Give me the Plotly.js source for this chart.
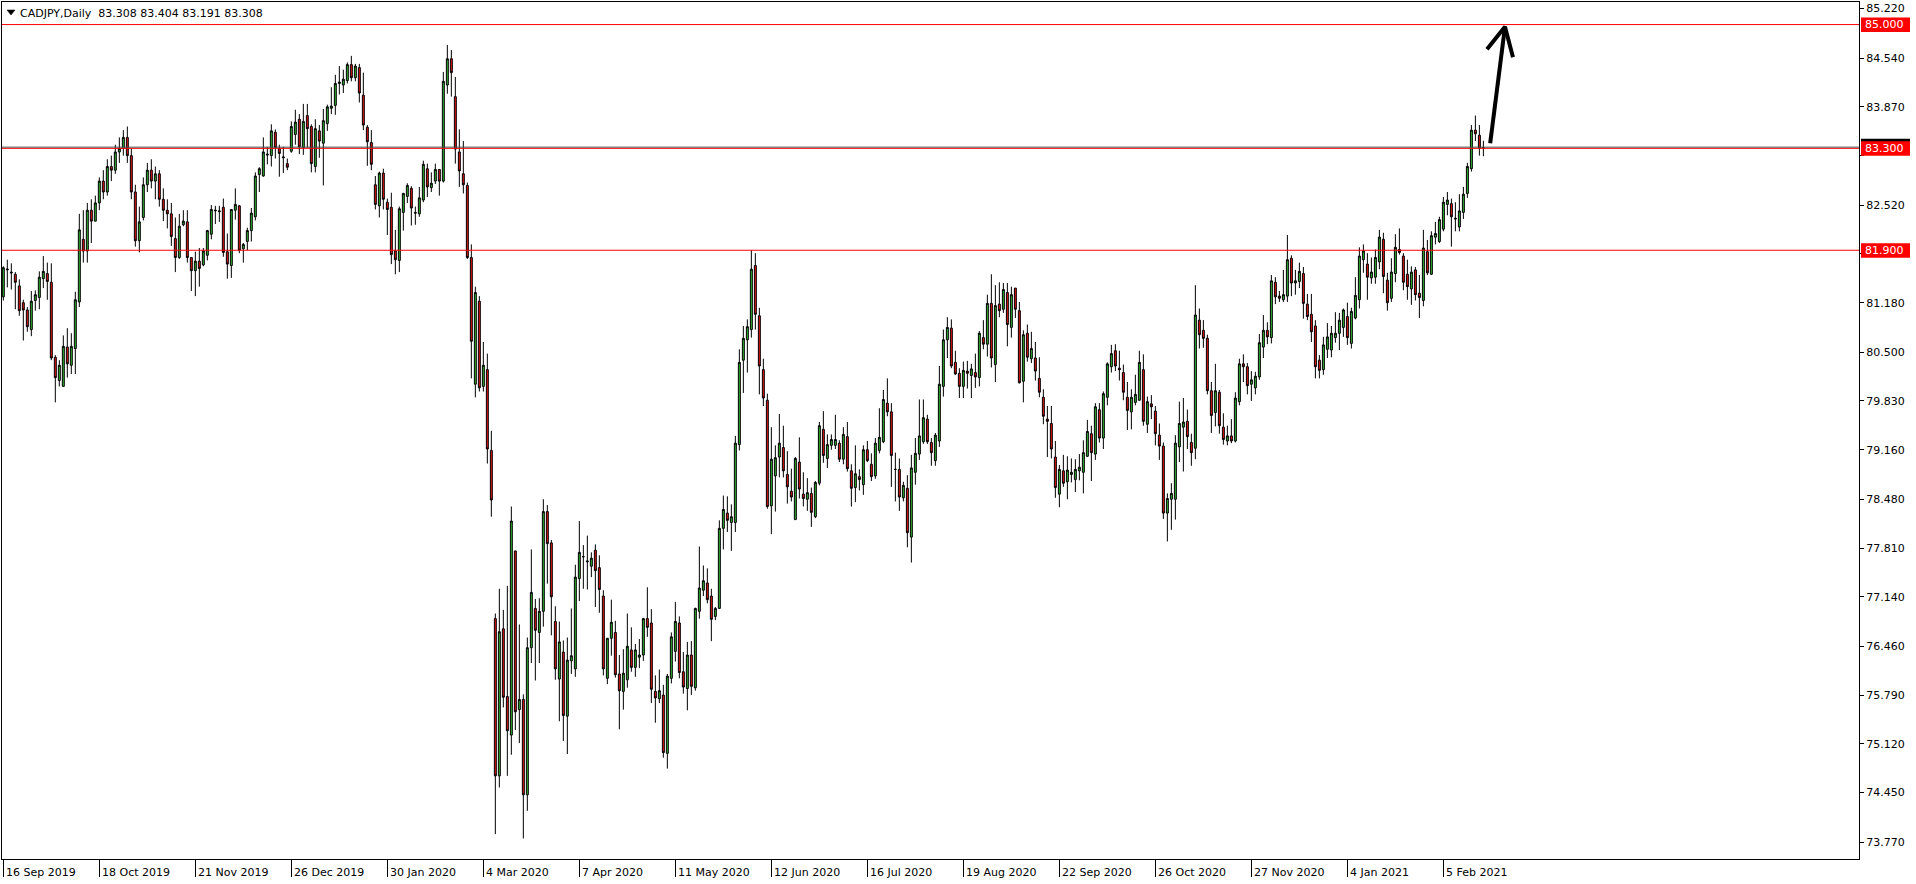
<!DOCTYPE html>
<html><head><meta charset="utf-8">
<script src="https://cdn.plot.ly/plotly-3.0.1.min.js"></script>
<style>html,body{margin:0;padding:0;background:#fff;overflow:hidden}#chart{width:1916px;height:884px}</style>
</head><body><div id="chart"></div>
<script>
const symbolTitle = 'CADJPY,Daily';
const lastBar = ['83.308', '83.404', '83.191', '83.308'];

const opens = [
81.26,81.63,81.60,81.57,81.41,81.18,81.08,80.81,81.21,81.25,
81.51,81.58,81.46,80.43,80.11,80.03,80.57,80.32,80.55,81.19,
82.05,81.89,82.45,82.30,82.55,82.85,82.70,83.05,83.00,83.25,
83.30,83.45,83.20,82.70,82.03,82.35,82.80,83.00,82.85,82.95,
82.60,82.45,82.40,82.06,81.80,82.25,82.29,81.80,81.62,81.75,
81.70,81.83,82.12,82.44,82.43,82.49,81.88,81.69,82.45,82.51,
81.92,82.02,82.17,82.36,82.94,82.92,83.22,83.20,83.52,83.30,
83.17,83.09,83.26,83.49,83.70,83.31,83.75,83.60,83.05,83.54,
83.37,83.64,83.85,83.89,84.19,84.17,84.23,84.45,84.27,84.41,
84.03,83.59,83.38,82.80,82.51,82.96,82.56,82.49,81.89,81.76,
82.42,82.64,82.75,82.42,82.40,82.59,83.02,82.76,82.85,83.01,
82.85,84.17,84.53,84.01,83.25,82.95,82.79,81.80,80.06,81.20,
80.03,80.26,79.15,76.84,74.68,76.70,75.77,75.24,77.77,75.59,
75.73,74.42,76.44,76.98,76.65,76.94,78.31,77.88,76.80,76.01,
76.38,75.50,76.26,76.15,77.39,77.69,77.62,77.56,77.78,77.54,
77.15,76.02,76.57,76.65,76.08,75.84,76.00,76.41,76.17,76.31,
76.34,76.84,76.78,75.84,75.74,75.79,74.99,76.02,76.39,76.78,
76.11,75.88,76.34,75.89,76.94,77.23,77.33,77.15,76.87,76.98,
78.08,78.29,78.16,78.16,79.23,80.39,80.67,80.81,81.69,81.00,
80.26,79.84,78.39,78.80,79.06,79.19,78.82,78.59,78.20,78.99,
78.55,78.48,78.56,78.24,78.70,79.44,79.04,79.22,79.22,79.25,
79.03,79.34,78.87,78.64,78.79,78.68,79.16,78.96,78.80,79.15,
79.27,79.80,79.68,78.89,78.89,78.50,78.63,77.96,78.85,79.10,
79.27,79.58,79.26,79.01,79.28,80.03,80.67,80.83,80.36,80.21,
80.03,80.24,80.18,80.22,80.15,80.70,80.61,81.17,80.33,81.16,
81.09,81.32,80.84,81.38,81.07,80.10,80.76,80.41,80.42,80.14,
79.88,79.58,79.52,79.06,78.55,78.87,78.72,78.82,78.75,78.87,
78.85,79.07,79.38,79.10,79.71,79.32,79.88,80.30,80.52,80.28,
80.22,79.88,79.68,79.81,79.84,80.26,79.51,79.79,79.69,79.36,
79.21,78.29,78.48,78.48,79.20,79.47,79.55,79.26,79.18,80.94,
80.80,80.69,79.97,79.67,79.95,79.47,79.28,79.35,79.28,79.82,
80.34,80.30,80.06,80.01,80.16,80.57,80.80,80.70,81.46,81.27,
81.22,81.27,81.79,81.45,81.47,81.58,81.16,81.02,80.86,80.39,
80.26,80.54,80.53,80.70,80.76,80.84,80.99,80.62,80.97,81.22,
81.77,81.71,81.52,81.53,81.74,82.05,81.49,81.24,81.58,81.91,
81.82,81.57,81.37,81.63,81.31,81.21,81.88,81.57,82.08,82.02,
82.19,82.53,82.54,82.34,82.22,82.42,82.68,83.02,83.55,83.48,
83.308];

const highs = [
81.68,81.77,81.72,81.60,81.50,81.22,81.12,81.34,81.35,81.61,
81.82,81.73,81.72,80.46,80.39,80.73,80.83,80.76,81.33,82.40,
82.45,82.55,82.60,82.65,82.90,83.00,83.15,83.20,83.35,83.45,
83.55,83.60,83.30,82.80,82.50,82.90,83.10,83.15,83.05,83.00,
82.75,82.60,82.55,82.35,82.40,82.45,82.45,81.80,81.88,81.93,
81.93,82.18,82.52,82.51,82.51,82.61,82.13,82.46,82.75,82.52,
82.00,82.21,82.48,82.97,83.04,83.45,83.32,83.63,83.56,83.35,
83.32,83.16,83.67,83.83,83.77,83.91,83.91,83.63,83.70,83.62,
83.84,83.90,84.14,84.31,84.43,84.38,84.48,84.57,84.46,84.46,
84.34,83.62,83.55,82.92,82.98,83.02,82.61,82.69,82.18,82.50,
82.69,82.82,82.78,82.50,82.77,83.13,83.09,82.97,83.09,83.01,
84.35,84.72,84.65,84.28,83.56,83.40,82.83,81.98,81.40,81.27,
80.64,80.48,79.42,76.91,77.25,76.96,77.29,78.38,77.77,76.76,
75.80,76.58,77.79,77.11,77.12,78.48,78.40,77.92,77.01,76.80,
76.54,76.58,76.98,77.58,78.18,77.85,77.98,77.75,77.86,77.71,
77.23,76.57,77.10,76.81,76.34,76.42,76.91,76.72,76.49,76.56,
76.85,77.27,76.97,76.06,76.14,75.93,76.08,76.65,77.07,76.87,
76.38,76.52,76.53,76.99,77.83,77.57,77.53,77.25,77.00,78.19,
78.53,78.52,78.41,79.35,80.54,80.86,80.95,81.90,81.86,81.11,
80.41,79.93,79.47,79.22,79.65,79.49,79.14,78.90,79.06,79.33,
78.85,78.77,78.64,78.73,79.54,79.69,79.37,79.37,79.64,79.29,
79.47,79.54,78.96,79.22,78.89,79.22,79.28,79.11,79.32,79.73,
79.98,80.14,79.80,79.12,79.04,78.72,78.81,79.09,79.32,79.85,
79.85,79.64,79.32,79.39,80.31,80.81,80.98,80.95,80.52,80.28,
80.37,80.38,80.34,80.48,80.79,80.94,81.29,81.57,81.42,81.46,
81.45,81.45,81.40,81.38,81.19,80.80,80.88,80.78,80.64,80.43,
79.99,79.76,79.76,79.28,78.95,79.09,79.07,79.04,79.03,79.10,
79.29,79.57,79.49,79.80,79.80,79.96,80.36,80.60,80.61,80.52,
80.33,80.09,79.99,80.19,80.52,80.47,79.89,79.91,79.76,79.52,
79.26,78.56,78.70,79.36,79.82,79.87,79.71,79.38,81.42,81.10,
80.94,80.74,80.09,80.34,79.98,79.66,79.49,79.58,79.95,80.41,
80.47,80.35,80.24,80.23,80.75,81.01,80.91,81.56,81.53,81.34,
81.63,82.11,81.83,81.63,81.73,81.67,81.30,81.30,80.94,80.46,
80.71,80.90,80.86,81.05,81.04,81.10,81.18,81.11,81.53,81.94,
81.98,81.86,81.80,81.91,82.18,82.14,81.59,81.79,82.12,82.20,
81.86,81.77,81.68,81.67,81.56,82.18,82.04,82.16,82.29,82.36,
82.63,82.70,82.61,82.56,82.67,82.77,83.10,83.62,83.75,83.62,
83.404];

const lows = [
81.21,81.39,81.36,81.09,81.00,80.66,80.78,80.72,81.07,81.09,
81.38,81.22,80.39,79.81,80.03,80.03,80.15,80.20,80.20,81.12,
81.73,81.73,82.00,82.30,82.45,82.60,82.65,82.85,82.95,83.10,
83.20,83.10,82.60,81.95,81.87,82.31,82.70,82.75,82.60,82.50,
82.30,82.20,81.96,81.60,81.78,82.23,81.73,81.34,81.27,81.40,
81.68,81.76,82.05,82.26,82.29,81.81,81.51,81.52,82.32,81.86,
81.73,81.90,82.02,82.31,82.70,82.91,83.08,83.05,83.16,82.91,
82.96,83.00,83.24,83.35,83.22,83.21,83.31,82.97,82.97,83.17,
82.79,83.54,83.77,83.76,84.04,84.06,84.19,84.22,84.22,83.93,
83.55,83.06,83.00,82.46,82.35,82.46,82.11,81.71,81.57,81.60,
82.17,82.55,82.24,82.25,82.36,82.56,82.63,82.70,82.81,82.65,
82.83,84.05,84.01,83.09,82.77,82.68,81.78,80.14,79.88,79.96,
79.96,78.97,78.24,73.88,74.52,75.62,74.68,74.97,75.31,75.13,
73.82,74.20,76.23,75.99,76.23,76.73,77.32,76.61,76.00,75.43,
75.16,74.98,76.08,76.04,77.08,77.25,77.24,77.41,77.00,76.92,
76.06,75.94,76.33,76.03,75.32,75.59,75.89,76.11,76.04,76.16,
76.26,76.59,75.68,75.41,75.68,74.93,74.78,75.95,76.25,76.02,
75.81,75.58,75.79,75.85,76.84,77.15,77.05,76.53,76.82,76.98,
77.79,78.03,77.77,78.03,79.15,79.94,80.22,80.70,80.81,79.92,
79.76,78.35,78.00,78.31,78.78,78.78,78.42,78.45,78.20,78.49,
78.38,78.32,78.10,78.22,78.67,78.98,78.91,79.16,79.17,78.99,
78.96,78.86,78.38,78.44,78.60,78.54,78.99,78.73,78.76,79.11,
79.25,79.62,78.65,78.45,78.32,78.45,77.82,77.61,78.68,79.02,
79.24,79.24,78.94,78.94,79.20,79.89,80.42,80.28,80.19,79.87,
79.87,80.00,79.87,80.01,80.03,80.54,80.44,80.29,80.09,80.98,
81.04,80.58,80.70,80.97,80.07,79.81,80.37,80.35,80.11,79.88,
79.51,79.06,79.04,78.50,78.37,78.65,78.48,78.71,78.58,78.74,
78.56,79.06,78.73,79.02,79.26,79.17,79.77,80.22,80.24,80.11,
79.84,79.43,79.44,79.77,79.83,79.49,79.39,79.58,79.22,79.02,
78.21,77.90,78.06,78.20,78.99,78.86,79.17,78.94,79.03,80.55,
80.56,79.92,79.39,79.48,79.38,79.23,79.22,79.25,79.26,79.77,
80.09,79.92,79.83,79.92,80.12,80.42,80.61,80.62,81.16,81.19,
81.19,81.19,81.27,81.29,81.38,80.96,80.94,80.64,80.14,80.14,
80.19,80.42,80.43,80.63,80.53,80.71,80.60,80.55,80.95,81.10,
81.59,81.22,81.44,81.44,81.64,81.31,81.07,81.19,81.46,81.84,
81.35,81.22,81.15,81.21,80.97,81.13,81.56,81.56,81.98,82.00,
82.16,82.38,81.95,82.16,82.16,82.33,82.62,82.98,83.40,83.20,
83.191];

const closes = [
81.66,81.64,81.59,81.46,81.07,81.08,80.85,81.20,81.29,81.53,
81.61,81.47,80.42,80.15,80.32,80.58,80.34,80.58,81.22,82.18,
81.89,82.45,82.30,82.55,82.85,82.70,83.05,83.00,83.25,83.30,
83.45,83.20,82.70,82.03,82.29,82.80,83.00,82.85,82.95,82.60,
82.45,82.40,82.09,81.80,82.23,82.30,81.80,81.62,81.75,81.65,
81.89,82.17,82.46,82.45,82.44,81.87,81.71,82.46,82.53,81.90,
81.98,82.17,82.41,82.92,83.02,83.25,83.21,83.54,83.31,83.23,
83.18,83.04,83.60,83.66,83.32,83.67,83.57,83.09,83.57,83.40,
83.68,83.87,83.88,84.19,84.21,84.25,84.45,84.27,84.43,84.06,
83.62,83.39,83.08,82.53,82.96,82.60,82.46,81.84,81.77,82.47,
82.68,82.79,82.48,82.41,82.62,83.08,82.77,82.82,83.01,82.85,
84.22,84.53,84.34,83.29,82.99,82.80,81.80,80.65,81.32,80.01,
80.32,79.17,78.47,74.68,76.66,75.76,75.30,78.18,75.56,75.73,
74.42,76.44,77.20,76.68,76.94,78.31,77.87,77.14,76.15,76.52,
75.51,76.27,76.33,77.41,77.75,77.69,77.63,77.67,77.50,77.24,
76.15,76.57,76.79,76.07,75.85,76.09,76.46,76.17,76.41,76.34,
76.84,76.72,75.87,75.75,75.85,75.00,76.05,76.59,76.80,76.10,
75.90,76.34,75.91,76.98,77.26,77.36,77.10,76.83,76.98,78.08,
78.34,78.19,78.24,79.25,80.36,80.69,80.85,81.64,81.02,80.31,
79.87,78.38,79.03,79.05,79.25,78.87,78.65,78.51,79.04,78.62,
78.49,78.57,78.30,78.71,79.49,79.08,79.23,79.30,79.30,79.03,
79.37,78.90,78.63,78.83,78.75,79.16,79.01,78.79,79.25,79.33,
79.85,79.68,79.08,78.89,78.51,78.67,78.02,78.91,79.11,79.35,
79.60,79.27,79.12,79.36,80.06,80.67,80.84,80.31,80.20,80.03,
80.25,80.21,80.27,80.16,80.76,80.61,81.17,80.42,81.14,81.07,
81.36,80.88,81.29,81.09,80.08,80.74,80.43,80.55,80.24,79.95,
79.62,79.55,79.17,78.64,78.89,78.70,78.88,78.85,78.89,78.92,
79.12,79.41,79.12,79.75,79.32,79.93,80.34,80.48,80.31,80.26,
79.95,79.70,79.88,79.92,80.36,79.55,79.82,79.75,79.38,79.21,
78.29,78.49,78.56,79.25,79.52,79.54,79.34,79.12,81.01,80.74,
80.69,79.97,79.63,79.97,79.49,79.30,79.35,79.28,79.87,80.34,
80.30,80.04,80.12,80.17,80.63,80.80,80.71,81.48,81.26,81.24,
81.29,81.77,81.45,81.48,81.61,81.17,80.99,80.78,80.30,80.25,
80.60,80.71,80.76,80.76,80.94,81.08,80.70,81.06,81.28,81.82,
81.89,81.53,81.60,81.80,82.08,81.54,81.18,81.60,81.94,81.87,
81.46,81.40,81.60,81.29,81.25,81.93,81.59,82.10,82.13,82.32,
82.56,82.59,82.36,82.33,82.44,82.67,83.05,83.55,83.50,83.30,
83.308];

const dateLabels = ['16 Sep 2019','18 Oct 2019','21 Nov 2019','26 Dec 2019','30 Jan 2020','4 Mar 2020',
  '7 Apr 2020','11 May 2020','12 Jun 2020','16 Jul 2020','19 Aug 2020','22 Sep 2020','26 Oct 2020',
  '27 Nov 2020','4 Jan 2021','5 Feb 2021'];
const barsPerLabel = 24;

const priceTicks = [73.770,74.450,75.120,75.790,76.460,77.140,77.810,78.480,79.160,79.830,
  80.500,81.180,81.850,82.520,83.200,83.870,84.540,85.220];
// tick labels that sit under the red price boxes are not readable in the reference
const coveredTicks = [81.850, 83.200];

const supportLevels = [85.000, 81.900];
const currentLevel = 83.300;
const bidPrice = 83.308;

// hand-drawn arrow (bar index, price)
const arrowX = [371.7, 375.4, null, 370.9, 375.4, 377.4];
const arrowY = [83.37, 84.97, null, 84.66, 84.97, 84.55];

const GREEN = '#32B432';
const RED = '#E61414';
const FONT = 'DejaVu Sans, Tahoma, sans-serif';

const xs = opens.map((_, i) => i);

const candles = {
  type: 'candlestick', x: xs, open: opens, high: highs, low: lows, close: closes,
  increasing: {line: {color: '#000000', width: 1}, fillcolor: GREEN},
  decreasing: {line: {color: '#000000', width: 1}, fillcolor: RED},
  whiskerwidth: 0, hoverinfo: 'skip', showlegend: false
};
const arrow = {
  type: 'scatter', mode: 'lines', x: arrowX, y: arrowY,
  line: {color: '#000000', width: 4}, hoverinfo: 'skip', showlegend: false, connectgaps: false
};

const labelBars = dateLabels.map((_, k) => k * barsPerLabel);
const allLevels = [supportLevels[0], currentLevel, supportLevels[1]];

const shapes = [];
supportLevels.forEach(p => shapes.push({type: 'line', xref: 'paper', x0: 0, x1: 1, yref: 'y', y0: p, y1: p,
  line: {color: '#FF0000', width: 1}, layer: 'above'}));
// 83.300 level with the grey bid line lying on it
shapes.push({type: 'line', xref: 'paper', x0: 0, x1: 1, yref: 'y', y0: currentLevel, y1: currentLevel,
  line: {color: '#FF0000', width: 1}, layer: 'above'});
shapes.push({type: 'line', xref: 'paper', x0: 0, x1: 1, yref: 'y', ysizemode: 'pixel', yanchor: bidPrice, y0: 0.6, y1: 0.6,
  line: {color: '#505050', width: 1}, layer: 'above'});
// bid price box (behind)
shapes.push({type: 'rect', xref: 'paper', xsizemode: 'pixel', xanchor: 1, x0: 2, x1: 51,
  yref: 'y', ysizemode: 'pixel', yanchor: bidPrice, y0: -6, y1: 9, fillcolor: '#000000', line: {width: 0}, layer: 'above'});
allLevels.forEach(p => shapes.push({type: 'rect', xref: 'paper', xsizemode: 'pixel', xanchor: 1, x0: 2, x1: 51,
  yref: 'y', ysizemode: 'pixel', yanchor: p, y0: -7.5, y1: 7, fillcolor: '#FF0000', line: {width: 0}, layer: 'above'}));
// small triangle before the title
shapes.push({type: 'path', xref: 'paper', xsizemode: 'pixel', xanchor: 0, yref: 'paper', ysizemode: 'pixel', yanchor: 1,
  path: 'M5,-8 L13,-8 L9,-13 Z', fillcolor: '#000000', line: {color: '#000000', width: 0.5}, layer: 'above'});

const annotations = [];
dateLabels.forEach((t, k) => annotations.push({
  xref: 'x', yref: 'paper', x: labelBars[k], y: 0, xanchor: 'left', yanchor: 'middle',
  xshift: 1, yshift: -13, text: t, showarrow: false, font: {family: FONT, size: 11, color: '#000000'}
}));
allLevels.forEach(p => annotations.push({
  xref: 'paper', yref: 'y', x: 1, y: p, xanchor: 'left', yanchor: 'middle', xshift: 4, yshift: 0,
  text: p.toFixed(3), showarrow: false, font: {family: FONT, size: 11, color: '#FFFFFF'}
}));
annotations.push({
  xref: 'paper', yref: 'paper', x: 0, y: 1, xanchor: 'left', yanchor: 'middle', xshift: 16, yshift: -11,
  text: symbolTitle + '\u00A0\u00A0' + lastBar.join(' '), showarrow: false,
  font: {family: FONT, size: 11, color: '#000000'}
});

const layout = {
  width: 1916, height: 884,
  margin: {l: 2, r: 57, t: 2, b: 25, pad: 0},
  paper_bgcolor: '#FFFFFF', plot_bgcolor: '#FFFFFF',
  showlegend: false, hovermode: false,
  boxgap: 0.3, boxgroupgap: 0.3,
  xaxis: {
    type: 'linear', range: [-0.33, 463.9], fixedrange: true,
    showgrid: false, zeroline: false, showline: true, mirror: true, linecolor: '#000000', linewidth: 1,
    tickmode: 'array', tickvals: labelBars, ticks: 'outside', ticklen: 17, tickwidth: 1, tickcolor: '#000000',
    showticklabels: false, rangeslider: {visible: false}
  },
  yaxis: {
    side: 'right', range: [73.538, 85.31], fixedrange: true,
    showgrid: false, zeroline: false, showline: true, mirror: true, linecolor: '#000000', linewidth: 1,
    tickmode: 'array', tickvals: priceTicks,
    ticktext: priceTicks.map(v => coveredTicks.includes(v) ? '' : v.toFixed(3)),
    ticks: 'outside', ticklen: 4, tickwidth: 1, tickcolor: '#000000',
    tickfont: {family: FONT, size: 11, color: '#000000'}
  },
  shapes: shapes,
  annotations: annotations
};

Plotly.newPlot('chart', [candles, arrow], layout, {staticPlot: true, displayModeBar: false});
</script>
</body></html>
